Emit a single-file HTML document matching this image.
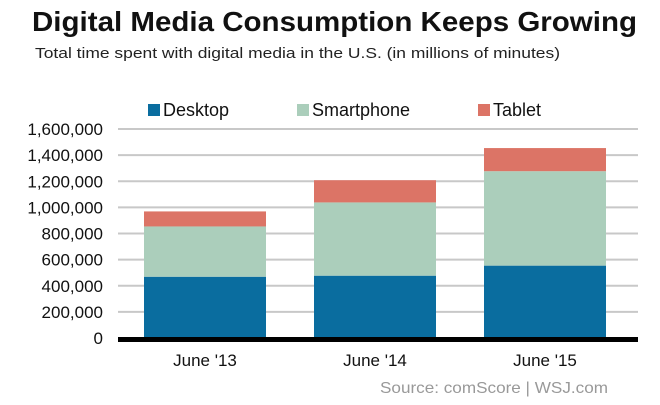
<!DOCTYPE html>
<html><head><meta charset="utf-8"><style>
body{margin:0;background:#fff;}
svg{display:block;font-family:"Liberation Sans",Arial,sans-serif;}
</style></head><body>
<svg id="chart" width="660" height="405" viewBox="0 0 660 405">
<text x="32" y="31" font-size="28" font-weight="bold" fill="#111" textLength="605" lengthAdjust="spacingAndGlyphs">Digital Media Consumption Keeps Growing</text>
<text x="35" y="58" font-size="15" fill="#222" textLength="525" lengthAdjust="spacingAndGlyphs">Total time spent with digital media in the U.S. (in millions of minutes)</text>
<g id="legend"></g>
<g id="grid"></g>
<g id="yaxis"></g>
<g id="bars"></g>
<g id="xaxis"></g>
<text x="608" y="393" font-size="16" fill="#999" text-anchor="end" textLength="228" lengthAdjust="spacingAndGlyphs">Source: comScore  |  WSJ.com</text>
</svg>
<script>
const categories=["June '13","June '14","June '15"];
const desktop=[469000,477000,554000];
const smartphone=[385000,561000,723000];
const tablet=[115000,170000,177000];
const seriesNames=["Desktop","Smartphone","Tablet"];
const yTicks=[0,200000,400000,600000,800000,1000000,1200000,1400000,1600000];
const NS="http://www.w3.org/2000/svg";
const colors=["#0a6d9f","#abcebb","#dc7466"];
const x0=118,x1=638,yBase=338,yTop=129,yMax=1600000;
function y(v){return yBase-(v/yMax)*(yBase-yTop);}
const bandStart=120, band=170, bw=122;
function xc(i){return bandStart+band*(i+0.5);}
function mk(t,a,p){const e=document.createElementNS(NS,t);for(const k in a)e.setAttribute(k,a[k]);p.appendChild(e);return e;}
const grid=document.getElementById('grid'),ya=document.getElementById('yaxis');
yTicks.forEach(v=>{
  if(v>0){const l=mk('line',{x1:x0,x2:x1,y1:y(v),y2:y(v),stroke:'#c8c8c8','stroke-width':2},grid);
  
  }
  const t=mk('text',{x:103,y:y(v)+6,'font-size':17,'text-anchor':'end',fill:'#111'},ya);
  t.textContent=v.toLocaleString('en-US');
  
  
});
const bars=document.getElementById('bars');
const series=[desktop,smartphone,tablet];
categories.forEach((c,i)=>{
  let acc=0;
  series.forEach((s,j)=>{
    const r=mk('rect',{x:xc(i)-bw/2,y:y(acc+s[i]),width:bw,height:y(acc)-y(acc+s[i]),fill:colors[j]},bars);
    
    
    acc+=s[i];
  });
});
const xa=document.getElementById('xaxis');
const bl=mk('rect',{x:x0,y:yBase-1,width:x1-x0,height:5,fill:'#000'},xa);


categories.forEach((c,i)=>{
  const t=mk('text',{x:xc(i),y:366,'font-size':17,'text-anchor':'middle',fill:'#111'},xa);
  t.textContent=c;
  
  
});
const lg=document.getElementById('legend');
const lx=[148,297,478];
seriesNames.forEach((n,j)=>{
  const r=mk('rect',{x:lx[j],y:104,width:12,height:12,fill:colors[j]},lg);
  
  
  const t=mk('text',{x:lx[j]+15,y:116,'font-size':18,fill:'#111'},lg);
  t.textContent=n;
  
  
});
</script>
</body></html>
